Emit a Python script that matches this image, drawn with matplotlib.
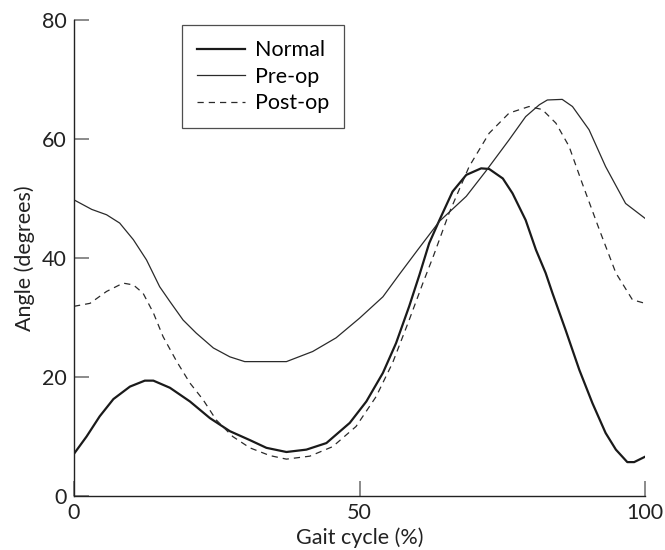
import matplotlib
matplotlib.use("Agg")
import matplotlib.pyplot as plt

plt.rcParams['font.family'] = ['Lato', 'DejaVu Sans']

normal_x = [0, 2.2, 4.5, 6.9, 9.8, 12.4, 13.9, 16.8, 20.3, 23.8, 27.3, 30.8, 33.7, 37.2, 40.7,
            44.2, 48.3, 51.2, 54.1, 56.4, 58.7, 60.5, 62.2, 64.0, 66.3, 68.7, 71.3, 72.7, 75.1,
            76.8, 79.1, 80.9, 82.6, 83.8, 86.1, 88.5, 90.8, 93.1, 94.9, 96.9, 98.1, 100]
normal_y = [7.1, 10.0, 13.4, 16.3, 18.4, 19.4, 19.4, 18.2, 15.9, 13.1, 10.9, 9.4, 8.1, 7.4, 7.8,
            8.9, 12.3, 15.9, 20.7, 25.7, 31.9, 37.2, 42.5, 46.4, 51.2, 54.0, 55.1, 55.0, 53.4,
            50.9, 46.4, 41.4, 37.5, 34.1, 27.9, 21.2, 15.6, 10.6, 7.8, 5.7, 5.7, 6.6]

preop_x = [0, 3.1, 5.7, 8.0, 10.4, 12.7, 15.0, 16.8, 19.1, 21.4, 24.4, 27.3, 29.9, 37.2, 41.8,
           45.9, 50.0, 54.1, 57.0, 60.2, 64.0, 68.7, 72.1, 76.2, 79.1, 81.5, 82.9, 85.5, 87.3,
           90.2, 93.1, 96.6, 100]
preop_y = [49.8, 48.2, 47.3, 45.9, 43.1, 39.7, 35.2, 32.7, 29.6, 27.4, 24.9, 23.4, 22.6, 22.6, 24.3,
           26.6, 29.9, 33.5, 37.3, 41.4, 46.2, 50.4, 54.6, 59.9, 63.8, 65.8, 66.6, 66.7, 65.5,
           61.6, 55.4, 49.2, 46.7]

postop_x = [0, 2.8, 5.7, 8.6, 10.4, 12.1, 13.9, 15.6, 18.0, 20.3, 22.6, 24.9, 27.8, 30.8, 34.3,
            37.2, 41.3, 45.3, 49.4, 52.9, 55.8, 58.7, 61.1, 63.0, 65.7, 69.2, 72.7, 76.2, 79.7,
            82.0, 84.4, 86.7, 89.0, 92.0, 94.9, 96.0, 97.8, 100]
postop_y = [31.9, 32.4, 34.4, 35.8, 35.5, 34.1, 30.8, 26.8, 22.6, 19.0, 16.2, 12.8, 10.0, 8.1, 6.8,
            6.2, 6.7, 8.3, 11.7, 16.7, 22.4, 29.6, 35.8, 40.5, 47.6, 55.4, 61.0, 64.4, 65.5,
            65.0, 62.7, 58.8, 52.6, 44.8, 37.5, 35.8, 33.0, 32.4]

series_labels = ["Normal", "Pre-op", "Post-op"]
x_ticks = [0, 50, 100]
y_ticks = [0, 20, 40, 60, 80]

fs = 15.5
fig = plt.figure(figsize=(6.65, 5.5), dpi=100)
ax = fig.add_axes([74/665, 1-496/550, (645-74)/665, (496-20.3)/550])

ax.plot(normal_x, normal_y, color='#1a1a1a', lw=1.6, label=series_labels[0])
ax.plot(preop_x, preop_y, color='#2a2a2a', lw=0.9, label=series_labels[1])
ax.plot(postop_x, postop_y, color='#2a2a2a', lw=0.9, ls=(0, (5, 4)), label=series_labels[2])

ax.set_xlim(0, 100)
ax.set_ylim(0, 80)
ax.set_xticks(x_ticks)
ax.set_yticks(y_ticks)
for s in ['top', 'right']:
    ax.spines[s].set_visible(False)
for s in ['left', 'bottom']:
    ax.spines[s].set_color('#222222')
    ax.spines[s].set_linewidth(1.0)
ax.tick_params(direction='in', length=11, width=1.2, colors='#777777', labelcolor='#222222',
               labelsize=fs, pad=5)
ax.set_xlabel("Gait cycle (%)", fontsize=fs, color='#222222', labelpad=3)
ax.set_ylabel("Angle (degrees)", fontsize=fs, color='#222222', labelpad=5)

leg = ax.legend(loc='upper left', bbox_to_anchor=(0.189, 0.99), fontsize=fs, frameon=True,
                fancybox=False, edgecolor='#222222', handlelength=2.25, handletextpad=0.45,
                labelspacing=0.3, borderpad=0.7, borderaxespad=0)
leg.get_frame().set_linewidth(0.9)

fig.savefig("out.png", dpi=100)
